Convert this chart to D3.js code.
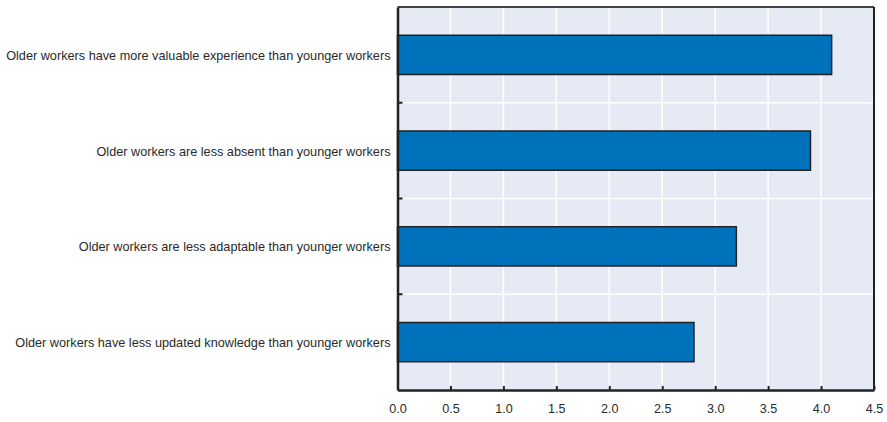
<!DOCTYPE html>
<html><head><meta charset="utf-8">
<script src="https://cdn.jsdelivr.net/npm/d3@7"></script>
<style>body{margin:0;background:#fff}svg{display:block}</style>
</head><body>
<script>
const categories = [
  "Older workers have more valuable experience than younger workers",
  "Older workers are less absent than younger workers",
  "Older workers are less adaptable than younger workers",
  "Older workers have less updated knowledge than younger workers"
];
const values = [4.1, 3.9, 3.2, 2.8];
const xTicks = [0, 0.5, 1, 1.5, 2, 2.5, 3, 3.5, 4, 4.5];

const W = 887, H = 422;
const m = {left: 397.5, right: 13, top: 7, bottom: 32};
const FONT = "Liberation Sans, Arial, sans-serif";
const svg = d3.select("body").append("svg").attr("width", W).attr("height", H);
const x = d3.scaleLinear().domain([0, 4.5]).range([m.left, W - m.right]);
const y = d3.scaleBand().domain(categories).range([m.top, H - m.bottom]).paddingInner(0.59).paddingOuter(0.295);
const yb = d3.scaleBand().domain(categories).range([m.top, H - m.bottom]);

svg.append("rect").attr("x", m.left).attr("y", m.top).attr("width", x(4.5) - m.left).attr("height", H - m.bottom - m.top).attr("fill", "#e6eaf5");

svg.append("g").selectAll("line").data(xTicks.slice(1, -1)).join("line")
  .attr("x1", d => x(d)).attr("x2", d => x(d)).attr("y1", m.top).attr("y2", H - m.bottom)
  .attr("stroke", "#fff").attr("stroke-width", 1.5);
const bounds = categories.slice(1).map(c => yb(c));
svg.append("g").selectAll("line").data(bounds).join("line")
  .attr("x1", m.left).attr("x2", x(4.5)).attr("y1", d => d).attr("y2", d => d)
  .attr("stroke", "#fff").attr("stroke-width", 1.5);

svg.append("g").selectAll("rect").data(values).join("rect")
  .attr("x", x(0)).attr("y", (d, i) => y(categories[i]))
  .attr("width", d => x(d) - x(0)).attr("height", y.bandwidth())
  .attr("fill", "#0072bb").attr("stroke", "#222").attr("stroke-width", 1.5);

svg.append("line").attr("x1", m.left).attr("x2", x(4.5)).attr("y1", m.top).attr("y2", m.top).attr("stroke", "#444").attr("stroke-width", 2);
svg.append("line").attr("x1", x(4.5)).attr("x2", x(4.5)).attr("y1", m.top).attr("y2", H - m.bottom).attr("stroke", "#222").attr("stroke-width", 2);

const xa = svg.append("g").attr("transform", `translate(0,${H - m.bottom})`)
  .call(d3.axisBottom(x).tickValues(xTicks).tickFormat(d3.format(".1f")).tickSizeInner(-4).tickSizeOuter(0).tickPadding(14));
xa.select(".domain").attr("stroke", "#222").attr("stroke-width", 2.5);
xa.selectAll(".tick line").attr("stroke", "#222").attr("stroke-width", 2);
xa.selectAll("text").attr("font-family", FONT).attr("font-size", 12.6).attr("fill", "#2a2a2a");

const ya = svg.append("g").attr("transform", `translate(${m.left},0)`)
  .call(d3.axisLeft(y).tickSize(0).tickPadding(7));
ya.select(".domain").attr("stroke", "#222").attr("stroke-width", 2.5);
ya.selectAll("text").attr("font-family", FONT).attr("font-size", 12.7).attr("fill", "#2a2a2a").attr("dy", "0.4em");
svg.append("g").selectAll("line").data(bounds).join("line")
  .attr("x1", m.left).attr("x2", m.left + 5).attr("y1", d => d).attr("y2", d => d)
  .attr("stroke", "#222").attr("stroke-width", 2);
</script>
</body></html>
